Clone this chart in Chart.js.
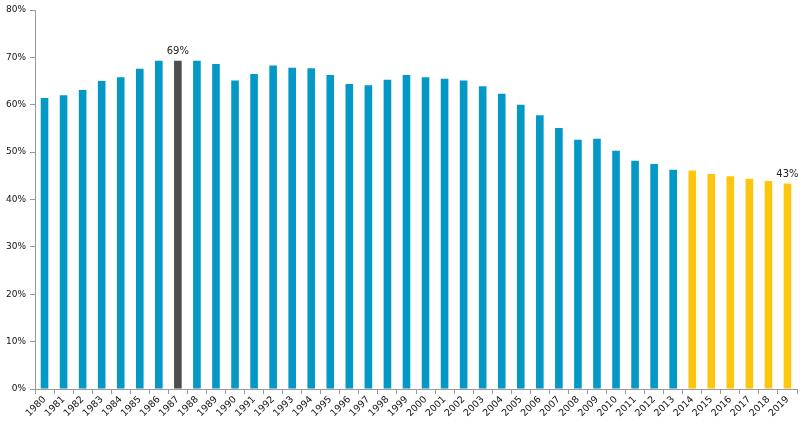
<!DOCTYPE html>
<html>
<head>
<meta charset="utf-8">
<script src="https://cdn.jsdelivr.net/npm/chart.js@4"></script>
<style>
  html, body { margin: 0; padding: 0; background: #fff; }
  #wrap { width: 800px; height: 422px; }
</style>
</head>
<body>
<div id="wrap"><canvas id="chart"></canvas></div>
<script>
const years = [];
for (let y = 1980; y <= 2019; y++) years.push(String(y));

const values = [61.4, 62.0, 63.1, 65.0, 65.8, 67.6, 69.3, 69.3, 69.3, 68.6,
                65.1, 66.5, 68.3, 67.8, 67.7, 66.3, 64.4, 64.1, 65.3, 66.3,
                65.8, 65.5, 65.1, 63.9, 62.3, 60.0, 57.8, 55.1, 52.6, 52.8,
                50.3, 48.2, 47.5, 46.3, 46.1, 45.4, 44.9, 44.4, 43.9, 43.4];

const yTicks = [0, 10, 20, 30, 40, 50, 60, 70, 80];
const highlightLabels = { "1987": "69%", "2019": "43%" };

const blue = "#0398c6", grey = "#4d4d4d", yellow = "#fcc60f";
const colors = years.map(y => y === "1987" ? grey : (+y >= 2014 ? yellow : blue));

const labelPlugin = {
    id: "barLabels",
    afterDatasetsDraw(chart) {
        const ctx = chart.ctx;
        const meta = chart.getDatasetMeta(0);
        ctx.save();
        ctx.font = "10px 'DejaVu Sans'";
        ctx.fillStyle = "#222";
        ctx.textAlign = "center";
        ctx.textBaseline = "bottom";
        years.forEach((y, i) => {
            if (!highlightLabels[y]) return;
            const bar = meta.data[i];
            ctx.fillText(highlightLabels[y], bar.x, bar.y - 4);
        });
        ctx.restore();
    }
};

new Chart(document.getElementById("chart"), {
    type: "bar",
    data: {
        labels: years,
        datasets: [{ data: values, backgroundColor: colors, barPercentage: 0.4, categoryPercentage: 1.0 }]
    },
    options: {
        responsive: true,
        maintainAspectRatio: false,
        animation: false,
        layout: { padding: { top: 10, right: 3 } },
        plugins: { legend: { display: false }, tooltip: { enabled: false } },
        scales: {
            x: {
                offset: true,
                grid: { offset: true, drawOnChartArea: false, drawTicks: true, tickLength: 5, color: "#999" },
                border: { color: "#999" },
                ticks: { font: { family: "DejaVu Sans", size: 9.5 }, color: "#111", minRotation: 45, maxRotation: 45, autoSkip: false, padding: 0 },
                afterFit(scale) { scale.height = 33; }
            },
            y: {
                min: 0, max: 80,
                afterBuildTicks(scale) { scale.ticks = yTicks.map(v => ({ value: v })); },
                grid: { drawOnChartArea: false, drawTicks: true, tickLength: 5, color: "#999" },
                border: { color: "#999" },
                ticks: { font: { family: "DejaVu Sans", size: 9 }, color: "#111", padding: 4, callback: v => v + "%" },
                afterFit(scale) { scale.width = 35; }
            }
        }
    },
    plugins: [labelPlugin]
});
</script>
</body>
</html>
